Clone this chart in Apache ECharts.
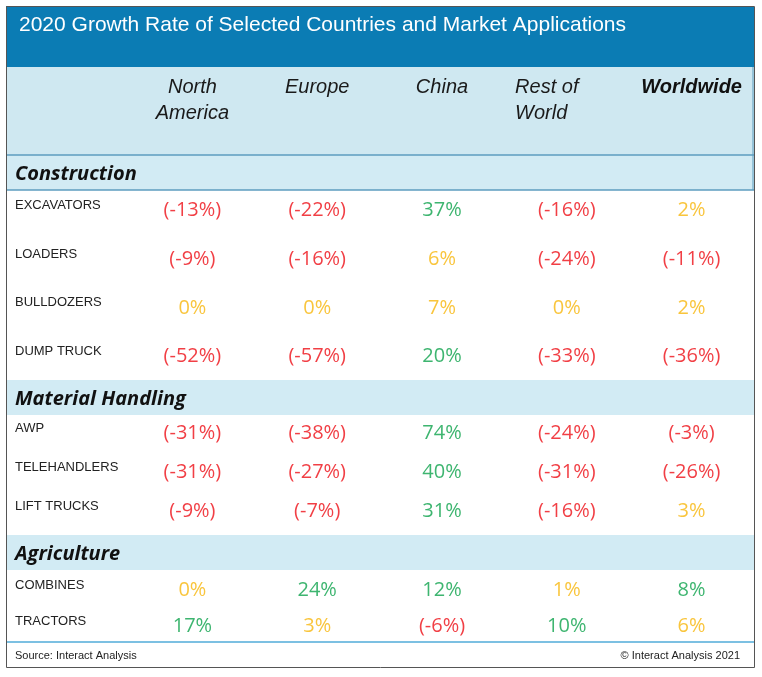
<!DOCTYPE html>
<html><head><meta charset="utf-8">
<script src="https://cdn.jsdelivr.net/npm/echarts@6/dist/echarts.min.js"></script>
<style>html,body{margin:0;padding:0;background:#fff}#c{width:762px;height:677px}</style>
</head><body><div id="c"></div>
<script>
// ---- data ----
const titleText = '2020 Growth Rate of Selected Countries and Market Applications';
const regions = ['North\nAmerica', 'Europe', 'China', 'Rest of\nWorld', 'Worldwide'];
const sections = ['Construction', 'Material Handling', 'Agriculture'];
const constructionRows = ['EXCAVATORS', 'LOADERS', 'BULLDOZERS', 'DUMP TRUCK'];
const materialRows = ['AWP', 'TELEHANDLERS', 'LIFT TRUCKS'];
const agricultureRows = ['COMBINES', 'TRACTORS'];
const excavators = [-13, -22, 37, -16, 2];
const loaders = [-9, -16, 6, -24, -11];
const bulldozers = [0, 0, 7, 0, 2];
const dumpTruck = [-52, -57, 20, -33, -36];
const awp = [-31, -38, 74, -24, -3];
const telehandlers = [-31, -27, 40, -31, -26];
const liftTrucks = [-9, -7, 31, -16, 3];
const combines = [0, 24, 12, 1, 8];
const tractors = [17, 3, -6, 10, 6];
const sourceText = 'Source: Interact Analysis';
const copyrightText = '\u00A9 Interact Analysis 2021';

const sectionRows = [constructionRows, materialRows, agricultureRows];
const sectionValues = [
  [excavators, loaders, bulldozers, dumpTruck],
  [awp, telehandlers, liftTrucks],
  [combines, tractors]
];

// ---- styles / layout ----
const RED = '#ee0f16', YELLOW = '#f8b70c', GREEN = '#0ea34c';
function colorFor(v) { return v < 0 ? RED : (v < 8 ? YELLOW : GREEN); }
function fmt(v) { return v < 0 ? '(' + v + '%)' : v + '%'; }
const gridLayout = [{ top: 186, height: 195 }, { top: 414, height: 117 }, { top: 572, height: 72 }];
const bandTops = [155, 380, 535];
const BAND = '#d2ebf4';
const FONT_HEAD = 'Liberation Sans';
const FONT_VAL = 'Open Sans';

const grids = [], xAxes = [], yAxes = [], series = [];
sectionRows.forEach((rows, i) => {
  grids.push({ left: 130, right: 8, top: gridLayout[i].top, height: gridLayout[i].height });
  const xa = {
    gridIndex: i, type: 'category', data: regions,
    axisLine: { show: false }, axisTick: { show: false }, splitLine: { show: false },
    axisLabel: { show: false }
  };
  if (i === 0) {
    xa.position = 'top';
    xa.axisLabel = {
      show: true, interval: 0, margin: 112, verticalAlign: 'top',
      fontFamily: FONT_HEAD, fontStyle: 'italic', fontSize: 20, lineHeight: 26, color: '#1a1a1a',
      formatter: function (v) {
        if (v === 'Worldwide') return '{b|' + v + '}';
        if (v.indexOf('Rest') === 0) return v.split('\n').map(s => '{l|' + s + '}').join('\n');
        return v;
      },
      rich: {
        b: { fontFamily: FONT_HEAD, fontStyle: 'italic', fontWeight: 'bold', fontSize: 20, lineHeight: 26, color: '#111' },
        l: { fontFamily: FONT_HEAD, fontStyle: 'italic', fontSize: 20, lineHeight: 26, color: '#1a1a1a', align: 'left', padding: [0, 40, 0, 0] }
      }
    };
  }
  xAxes.push(xa);
  yAxes.push({
    gridIndex: i, type: 'category', data: rows, inverse: true,
    axisLine: { show: false }, axisTick: { show: false }, splitLine: { show: false },
    axisLabel: {
      interval: 0, align: 'left', margin: 115, fontFamily: FONT_HEAD, fontSize: 13,
      color: '#222', verticalAlign: 'bottom', lineHeight: 10
    }
  });
  const data = [];
  sectionValues[i].forEach((rowVals, r) => {
    rowVals.forEach((v, c) => {
      data.push({ value: [c, r, v], label: { color: colorFor(v) } });
    });
  });
  series.push({
    type: 'scatter', xAxisIndex: i, yAxisIndex: i, data: data,
    symbol: 'circle', symbolSize: 1, itemStyle: { color: 'rgba(0,0,0,0)' }, silent: true,
    label: {
      show: true, position: 'inside', fontFamily: FONT_VAL, fontSize: 20,
      formatter: p => fmt(p.value[2])
    }
  });
});

const graphics = [
  { type: 'rect', shape: { x: 6, y: 6, width: 748, height: 61 }, style: { fill: '#0b7cb4' }, z: -10 },
  { type: 'rect', shape: { x: 6, y: 67, width: 748, height: 88 }, style: { fill: '#cfe8f1' }, z: -10 },
  { type: 'line', shape: { x1: 6, y1: 155, x2: 754, y2: 155 }, style: { stroke: '#5d9dbf', lineWidth: 1.5 }, z: -5 },
  { type: 'line', shape: { x1: 6, y1: 190, x2: 754, y2: 190 }, style: { stroke: '#5d9dbf', lineWidth: 1.5 }, z: -5 },
  { type: 'line', shape: { x1: 753, y1: 67, x2: 753, y2: 190 }, style: { stroke: '#5d9dbf', lineWidth: 1 }, z: -5 },
  { type: 'line', shape: { x1: 6, y1: 642, x2: 754, y2: 642 }, style: { stroke: '#7cc0e2', lineWidth: 2 }, z: -5 },
  { type: 'text', x: 15, y: 656, style: { text: sourceText, font: '11px "Liberation Sans"', fill: '#222', verticalAlign: 'middle' }, z: 5 },
  { type: 'text', x: 740, y: 656, style: { text: copyrightText, font: '11px "Liberation Sans"', fill: '#222', align: 'right', verticalAlign: 'middle' }, z: 5 },
  { type: 'rect', shape: { x: 6.5, y: 6.5, width: 748, height: 661 }, style: { fill: 'none', stroke: '#555', lineWidth: 1 }, z: 20 }
];
sections.forEach((s, i) => {
  graphics.push({ type: 'rect', shape: { x: 6, y: bandTops[i], width: 748, height: 35 }, style: { fill: BAND }, z: -10 });
  graphics.push({ type: 'text', x: 15, y: bandTops[i] + 19, style: { text: s, font: 'italic bold 20px "Open Sans"', fill: '#111', verticalAlign: 'middle' }, z: 5 });
});

const chart = echarts.init(document.getElementById('c'), null, { renderer: 'canvas' });
chart.setOption({
  animation: false,
  backgroundColor: '#fff',
  title: { text: titleText, left: 14, top: 10, textStyle: { color: '#fff', fontSize: 21, fontWeight: 'normal', fontFamily: FONT_HEAD } },
  grid: grids, xAxis: xAxes, yAxis: yAxes, series: series,
  graphic: { elements: graphics }
});
</script></body></html>
